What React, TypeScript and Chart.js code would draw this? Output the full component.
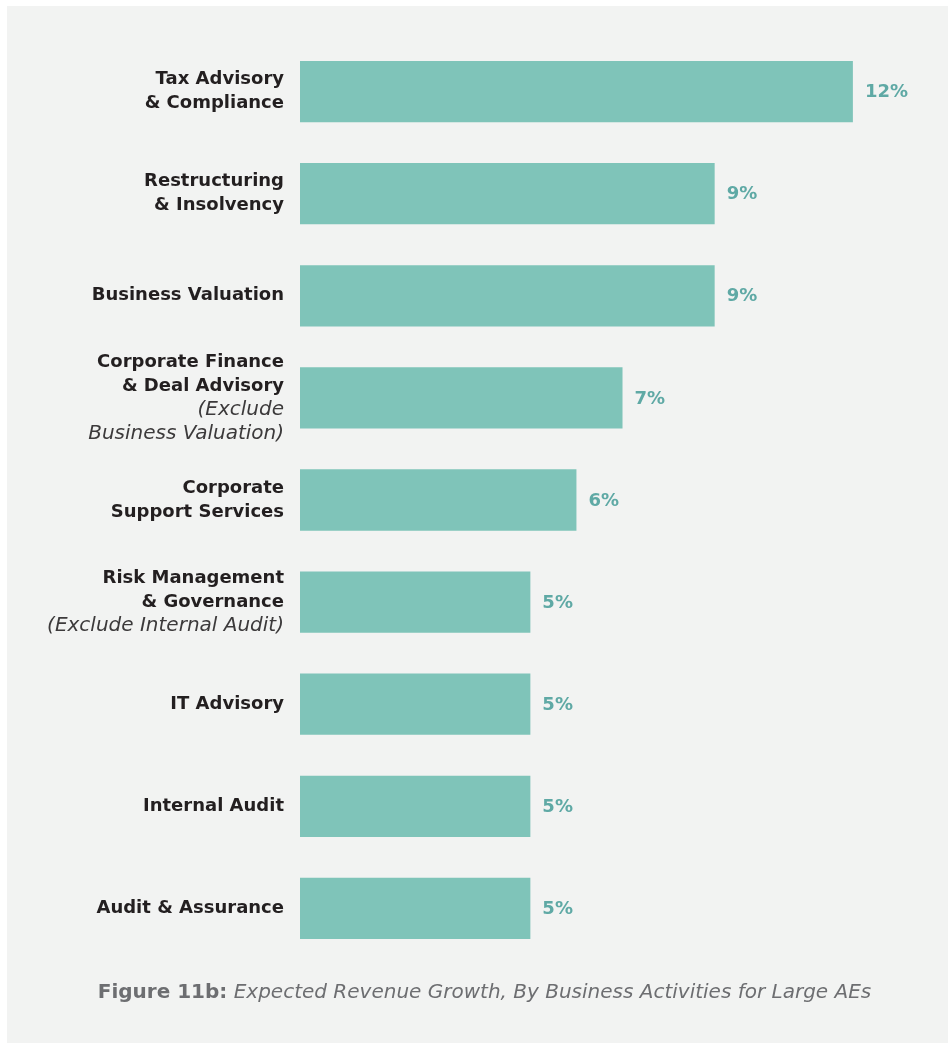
import React, { useEffect, useRef } from "react";
import { Chart, registerables } from "chart.js";

Chart.register(...registerables);

const categories = [
  "Tax Advisory & Compliance",
  "Restructuring & Insolvency",
  "Business Valuation",
  "Corporate Finance & Deal Advisory",
  "Corporate Support Services",
  "Risk Management & Governance",
  "IT Advisory",
  "Internal Audit",
  "Audit & Assurance",
];

const values = [12, 9, 9, 7, 6, 5, 5, 5, 5];

// label lines: bold lines, then italic lines
const labelBold: string[][] = [
  ["Tax Advisory", "& Compliance"],
  ["Restructuring", "& Insolvency"],
  ["Business Valuation"],
  ["Corporate Finance", "& Deal Advisory"],
  ["Corporate", "Support Services"],
  ["Risk Management", "& Governance"],
  ["IT Advisory"],
  ["Internal Audit"],
  ["Audit & Assurance"],
];
const labelItalic: string[][] = [
  [],
  [],
  [],
  ["(Exclude", "Business Valuation)"],
  [],
  ["(Exclude Internal Audit)"],
  [],
  [],
  [],
];

const captionBold = "Figure 11b:";
const captionItalic = " Expected Revenue Growth, By Business Activities for Large AEs";

const FONT = "'DejaVu Sans', sans-serif";

const customPlugin = {
  id: "custom",
  beforeDraw(chart: any) {
    const ctx = chart.ctx;
    ctx.save();
    ctx.fillStyle = "#ffffff";
    ctx.fillRect(0, 0, chart.width, chart.height);
    ctx.fillStyle = "#f2f3f2";
    ctx.fillRect(7, 6, chart.width - 8, chart.height - 6);
    ctx.restore();
  },
  afterDatasetsDraw(chart: any) {
    const ctx = chart.ctx;
    const y = chart.scales.y;
    const x = chart.scales.x;
    ctx.save();
    const lh = 24;
    categories.forEach((c, i) => {
      const cy = y.getPixelForValue(i);
      const lines: [string, boolean][] = [
        ...labelBold[i].map((l) => [l, true] as [string, boolean]),
        ...labelItalic[i].map((l) => [l, false] as [string, boolean]),
      ];
      const n = lines.length;
      lines.forEach(([t, bold], k) => {
        const ly = cy + (k - (n - 1) / 2) * lh;
        ctx.font = bold ? `bold 18px ${FONT}` : `italic 20px ${FONT}`;
        ctx.fillStyle = bold ? "#231f20" : "#3c3a3b";
        ctx.textAlign = "right";
        ctx.textBaseline = "middle";
        ctx.fillText(t, 284, ly);
      });
      const vx = x.getPixelForValue(values[i]);
      ctx.font = `bold 18px ${FONT}`;
      ctx.fillStyle = "#5fa9a5";
      ctx.textAlign = "left";
      ctx.textBaseline = "middle";
      ctx.fillText(values[i] + "%", vx + 12, cy + 1);
    });
    // caption
    ctx.font = `bold 20px ${FONT}`;
    const w1 = ctx.measureText(captionBold).width;
    ctx.font = `italic 20px ${FONT}`;
    const w2 = ctx.measureText(captionItalic).width;
    const start = 484.5 - (w1 + w2) / 2;
    ctx.textAlign = "left";
    ctx.textBaseline = "middle";
    ctx.fillStyle = "#6d6e71";
    ctx.font = `bold 20px ${FONT}`;
    ctx.fillText(captionBold, start, 993);
    ctx.font = `italic 20px ${FONT}`;
    ctx.fillText(captionItalic, start + w1, 993);
    ctx.restore();
  },
};

export default function App() {
  const ref = useRef<HTMLCanvasElement>(null);
  useEffect(() => {
    if (!ref.current) return;
    const chart = new Chart(ref.current, {
      type: "bar",
      data: {
        labels: categories,
        datasets: [
          {
            data: values,
            backgroundColor: "#7fc4b9",
            borderWidth: 0,
            barPercentage: 0.6,
            categoryPercentage: 1,
          },
        ],
      },
      options: {
        indexAxis: "y",
        animation: false,
        responsive: false,
        maintainAspectRatio: false,
        layout: { padding: { left: 300, right: 27, top: 40.5, bottom: 83.5 } },
        plugins: { legend: { display: false }, tooltip: { enabled: false } },
        scales: {
          x: { display: false, min: 0, max: 13.5 },
          y: { display: false },
        },
      },
      plugins: [customPlugin],
    });
    return () => chart.destroy();
  }, []);
  return (
    <div style={{ position: "absolute", left: 0, top: 0, width: 949, height: 1043 }}>
      <canvas ref={ref} width={949} height={1043} style={{ width: 949, height: 1043, display: "block" }} />
    </div>
  );
}
